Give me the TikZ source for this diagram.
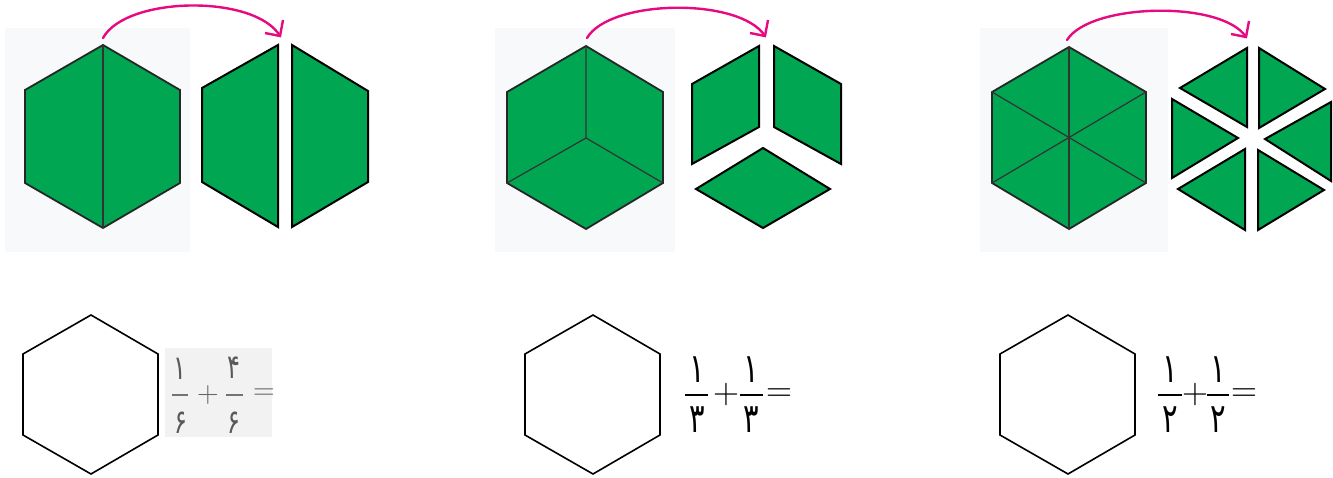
\documentclass[tikz,border=0pt]{standalone}
\usepackage{fontspec}
\usepackage{graphicx}
\newfontfamily\fafont[Script=Arabic]{DejaVu Sans}
\usetikzlibrary{arrows.meta}
\definecolor{pgreen}{HTML}{00A651}
\definecolor{pmag}{HTML}{E6097F}
\definecolor{faint}{HTML}{F8F9FA}
\definecolor{faintgray}{HTML}{F2F2F2}
\newcommand{\tallfa}[1]{\scalebox{1}[1.4]{#1}}
\tikzset{
 piece/.style={fill=pgreen, draw=black, line width=2pt},
 bighex/.style={fill=pgreen, draw=black!85, line width=1.8pt},
 innerline/.style={draw=black!80, line width=1.2pt},
 blank/.style={draw=black, line width=1.6pt, fill=white},
 bendarrow/.style={draw=pmag, line width=2.4pt, line cap=round},
 barb/.style={draw=pmag, line width=2.4pt, line join=miter},
 digit/.style={font=\fafont\fontsize{29}{31}\selectfont, inner sep=0pt},
 digitsmall/.style={font=\fafont\fontsize{24}{26}\selectfont, inner sep=0pt, text=black!65},
 op/.style={font=\fontsize{36}{38}\selectfont, inner sep=0pt},
 opsmall/.style={font=\fontsize{30}{32}\selectfont, inner sep=0pt, text=black!60},
 fbar/.style={line width=1.2pt},
 fbarsmall/.style={line width=1.2pt, draw=black!55}
}
\begin{document}
\begin{tikzpicture}[x=1pt,y=-1pt]
\useasboundingbox (0,0) rectangle (1333,478);
% faint backgrounds
\fill[faint] (5,28) rectangle (190,252);
\fill[faint] (495,28) rectangle (675,252);
\fill[faint] (980,28) rectangle (1168,252);
\fill[faintgray] (165,348) rectangle (272,437);

% ===== Panel 1 =====
\path[bighex] (103,45) -- (180,90) -- (180,183) -- (103,228) -- (25,183) -- (25,90) -- cycle;
\draw[innerline] (103,45) -- (103,228);
\path[piece] (278,45) -- (202,88) -- (202,182) -- (278,227) -- cycle;
\path[piece] (292,45) -- (368,91) -- (368,182) -- (292,227) -- cycle;
\coordinate (a1s) at (103,38);
\coordinate (a1e) at (280,36);
\draw[bendarrow] (a1s) .. controls (126,-4) and (255,-6) .. (a1e);
\draw[barb] (a1e) ++(-15,-3) -- (a1e) -- ++(3,-16);

% ===== Panel 2 =====
\path[bighex] (586,46) -- (663,92) -- (663,183) -- (586,229) -- (507,183) -- (507,92) -- cycle;
\draw[innerline] (586,46) -- (586,138) -- (507,183);
\draw[innerline] (586,138) -- (663,183);
\path[piece] (759,46) -- (692,84) -- (692,164) -- (759,127) -- cycle;
\path[piece] (774,46) -- (841,84) -- (841,164) -- (774,127) -- cycle;
\path[piece] (763,148) -- (696,189) -- (763,228) -- (830,189) -- cycle;
\coordinate (a2s) at (587,38);
\coordinate (a2e) at (765,36);
\draw[bendarrow] (a2s) .. controls (610,-1) and (740,-3) .. (a2e);
\draw[barb] (a2e) ++(-15,-3) -- (a2e) -- ++(3,-16);

% ===== Panel 3 =====
\path[bighex] (1069,47) -- (1146,92) -- (1146,183) -- (1069,229) -- (992,183) -- (992,92) -- cycle;
\draw[innerline] (1069,47) -- (1069,229);
\draw[innerline] (992,92) -- (1146,183);
\draw[innerline] (1146,92) -- (992,183);
\path[piece] (1247,48) -- (1180,88) -- (1247,127) -- cycle;
\path[piece] (1259,48) -- (1325,89) -- (1259,128) -- cycle;
\path[piece] (1172,99) -- (1238,138) -- (1172,178) -- cycle;
\path[piece] (1331,102) -- (1265,139) -- (1331,181) -- cycle;
\path[piece] (1245,149) -- (1178,189) -- (1245,230) -- cycle;
\path[piece] (1258,150) -- (1324,190) -- (1258,230) -- cycle;
\coordinate (a3s) at (1067,40);
\coordinate (a3e) at (1246,37);
\draw[bendarrow] (a3s) .. controls (1090,3) and (1222,0) .. (a3e);
\draw[barb] (a3e) ++(-15,-3) -- (a3e) -- ++(3,-16);

% ===== Bottom row =====
\path[blank] (91,315) -- (158,354) -- (158,435) -- (91,474) -- (23,435) -- (23,354) -- cycle;
\path[blank] (593,315) -- (660,354) -- (660,435) -- (593,474) -- (525,435) -- (525,354) -- cycle;
\path[blank] (1068,315) -- (1135,354) -- (1135,435) -- (1068,474) -- (1000,435) -- (1000,354) -- cycle;

% fraction 1 (faint)
\node[digitsmall] (n1a) at (180,369) {\tallfa{۱}};
\node[digitsmall] (d1a) at (181,423) {\tallfa{۶}};
\draw[fbarsmall] (172,395) -- (188,395);
\node[opsmall] (p1) at (208,395) {+};
\node[digitsmall] (n1b) at (234,368) {\tallfa{۴}};
\node[digitsmall] (d1b) at (234,423) {\tallfa{۶}};
\draw[fbarsmall] (226,395) -- (243,395);
\node[opsmall] (e1) at (264,394) {=};

% fraction 2
\node[digit] (n2a) at (697,370) {\tallfa{۱}};
\node[digit] (d2a) at (697,420) {\tallfa{۳}};
\draw[fbar] (685,395) -- (708,395);
\node[op] (p2) at (726,395) {+};
\node[digit] (n2b) at (751,370) {\tallfa{۱}};
\node[digit] (d2b) at (751,420) {\tallfa{۳}};
\draw[fbar] (740,395) -- (763,395);
\node[op] (e2) at (779,395) {=};

% fraction 3
\node[digit] (n3a) at (1170,370) {\tallfa{۱}};
\node[digit] (d3a) at (1170,420) {\tallfa{۲}};
\draw[fbar] (1158,395) -- (1182,395);
\node[op] (p3) at (1195,395) {+};
\node[digit] (n3b) at (1218,370) {\tallfa{۱}};
\node[digit] (d3b) at (1218,420) {\tallfa{۲}};
\draw[fbar] (1207,395) -- (1229,395);
\node[op] (e3) at (1244,395) {=};
\end{tikzpicture}
\end{document}
